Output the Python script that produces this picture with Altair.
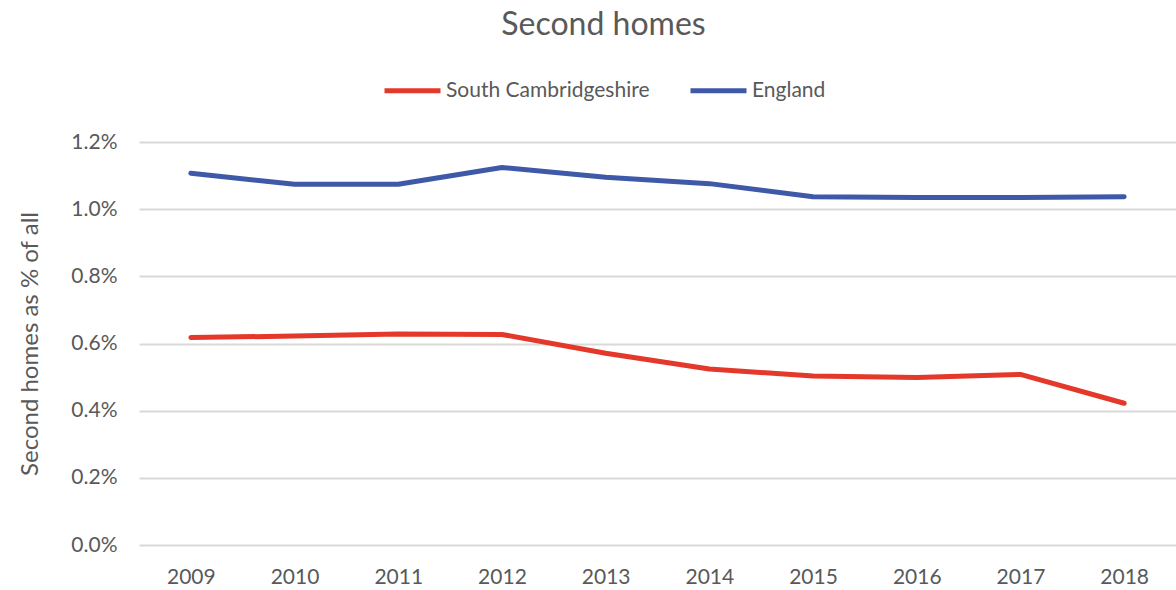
import altair as alt
import pandas as pd

years = ["2009", "2010", "2011", "2012", "2013", "2014", "2015", "2016", "2017", "2018"]
south_cambs = [0.618, 0.622, 0.628, 0.627, 0.571, 0.524, 0.503, 0.499, 0.508, 0.422]
england = [1.107, 1.074, 1.074, 1.124, 1.095, 1.076, 1.037, 1.035, 1.035, 1.037]
series = ["South Cambridgeshire", "England"]
colors = ["#E4382A", "#3E59A8"]
y_ticks = [0.0, 0.002, 0.004, 0.006, 0.008, 0.010, 0.012]

rows = []
for name, vals in zip(series, [south_cambs, england]):
    for y, v in zip(years, vals):
        rows.append({"Year": y, "Series": name, "Value": v / 100})
df = pd.DataFrame(rows)

FONT = "Lato"
GREY = "#595959"

chart = alt.Chart(df).mark_line(strokeWidth=5, strokeCap="round", strokeJoin="round").encode(
    x=alt.X("Year:O", sort=years,
            scale=alt.Scale(type="point", padding=0.5),
            axis=alt.Axis(title=None, labelAngle=0, domain=False, ticks=False, grid=False,
                          labelPadding=21, labelFontSize=21, labelColor=GREY, labelFont=FONT)),
    y=alt.Y("Value:Q",
            scale=alt.Scale(domain=[0, 0.012], nice=False),
            axis=alt.Axis(title="Second homes as % of all", format=".1%", values=y_ticks,
                          domain=False, ticks=False, gridColor="#D9D9D9", gridWidth=2,
                          labelPadding=22, labelFontSize=21, labelColor=GREY, labelFont=FONT,
                          titleFontSize=24, titleColor=GREY, titleFont=FONT,
                          titleFontWeight="normal", titlePadding=28)),
    color=alt.Color("Series:N", sort=series,
                    scale=alt.Scale(domain=series, range=colors),
                    legend=alt.Legend(title=None, orient="none", direction="horizontal",
                                      legendX=243, legendY=-82, labelLimit=400,
                                      symbolType="stroke", symbolSize=3136, symbolStrokeWidth=5,
                                      labelFontSize=21, labelColor=GREY, labelFont=FONT,
                                      labelOffset=3, columnPadding=30)),
).properties(
    width=1037,
    height=403,
    title=alt.TitleParams("Second homes", fontSize=32, font=FONT, color=GREY,
                          fontWeight="normal", anchor="middle", offset=18, dx=-54),
    padding={"left": 139, "top": 142, "right": 0, "bottom": 45},
    autosize=alt.AutoSizeParams(type="none"),
).configure_view(stroke=None)

chart.save("out.html", embed_options={"renderer": "svg", "actions": False})
